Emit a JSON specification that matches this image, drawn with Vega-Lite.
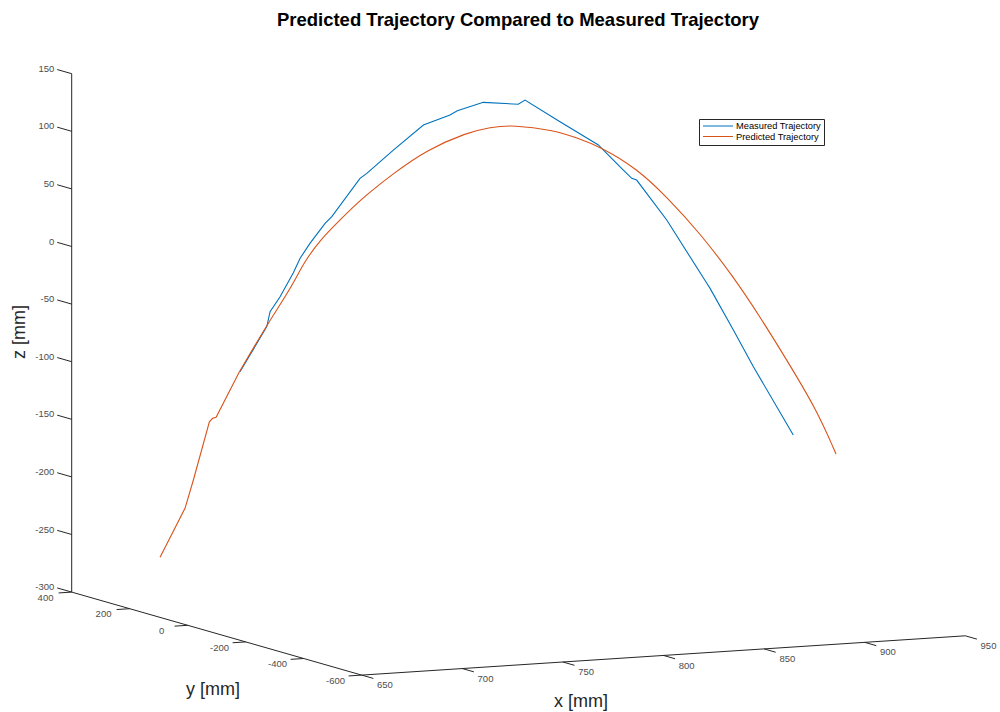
{
  "$schema": "https://vega.github.io/schema/vega-lite/v6.json",
  "width": 1000,
  "height": 672,
  "padding": {"left": 0, "top": 40, "right": 0, "bottom": 0},
  "autosize": {"type": "none"},
  "background": "white",
  "title": {
    "text": "Predicted Trajectory Compared to Measured Trajectory",
    "font": "Liberation Sans",
    "fontSize": 18.5,
    "fontWeight": "bold",
    "color": "#000000",
    "anchor": "middle",
    "offset": 11,
    "dx": 18
  },
  "config": {
    "view": {"stroke": null},
    "text": {"font": "Liberation Sans"},
    "legend": {
      "title": null,
      "fillColor": "#ffffff",
      "strokeColor": "#262626",
      "padding": 3,
      "symbolType": "stroke",
      "symbolSize": 900,
      "symbolStrokeWidth": 1.2,
      "clipHeight": 8,
      "rowPadding": 0.5,
      "labelOffset": 2,
      "labelFont": "Liberation Sans",
      "labelFontSize": 9.3,
      "labelColor": "#000000"
    }
  },
  "datasets": {
    "trajectory": [
      {"series": "Measured Trajectory", "x": 709.0, "y": 229.0, "z": -103.1},
      {"series": "Measured Trajectory", "x": 718.9, "y": 205.3, "z": -63.4},
      {"series": "Measured Trajectory", "x": 720.1, "y": 202.3, "z": -50.3},
      {"series": "Measured Trajectory", "x": 723.8, "y": 193.5, "z": -37.1},
      {"series": "Measured Trajectory", "x": 728.7, "y": 181.7, "z": -16.0},
      {"series": "Measured Trajectory", "x": 731.2, "y": 175.7, "z": -3.3},
      {"series": "Measured Trajectory", "x": 734.8, "y": 166.8, "z": 9.9},
      {"series": "Measured Trajectory", "x": 740.4, "y": 153.5, "z": 27.6},
      {"series": "Measured Trajectory", "x": 742.9, "y": 147.6, "z": 33.5},
      {"series": "Measured Trajectory", "x": 753.3, "y": 122.5, "z": 67.4},
      {"series": "Measured Trajectory", "x": 755.8, "y": 116.5, "z": 71.9},
      {"series": "Measured Trajectory", "x": 765.6, "y": 92.9, "z": 92.7},
      {"series": "Measured Trajectory", "x": 776.7, "y": 66.3, "z": 115.1},
      {"series": "Measured Trajectory", "x": 786.5, "y": 42.6, "z": 124.4},
      {"series": "Measured Trajectory", "x": 789.2, "y": 36.1, "z": 128.3},
      {"series": "Measured Trajectory", "x": 798.8, "y": 13.0, "z": 136.1},
      {"series": "Measured Trajectory", "x": 811.7, "y": -18.0, "z": 135.2},
      {"series": "Measured Trajectory", "x": 814.2, "y": -24.0, "z": 139.0},
      {"series": "Measured Trajectory", "x": 827.1, "y": -55.1, "z": 121.0},
      {"series": "Measured Trajectory", "x": 841.3, "y": -89.0, "z": 101.6},
      {"series": "Measured Trajectory", "x": 842.5, "y": -92.1, "z": 98.8},
      {"series": "Measured Trajectory", "x": 850.5, "y": -111.2, "z": 80.4},
      {"series": "Measured Trajectory", "x": 853.6, "y": -118.7, "z": 73.4},
      {"series": "Measured Trajectory", "x": 855.4, "y": -123.1, "z": 72.0},
      {"series": "Measured Trajectory", "x": 866.5, "y": -149.8, "z": 38.0},
      {"series": "Measured Trajectory", "x": 881.3, "y": -185.3, "z": -16.1},
      {"series": "Measured Trajectory", "x": 882.5, "y": -188.2, "z": -20.4},
      {"series": "Measured Trajectory", "x": 891.1, "y": -208.9, "z": -56.0},
      {"series": "Measured Trajectory", "x": 898.5, "y": -226.6, "z": -87.5},
      {"series": "Measured Trajectory", "x": 913.2, "y": -262.1, "z": -145.9},
      {"series": "Predicted Trajectory", "x": 679.5, "y": 300.0, "z": -266.0},
      {"series": "Predicted Trajectory", "x": 688.7, "y": 277.8, "z": -222.9},
      {"series": "Predicted Trajectory", "x": 691.8, "y": 270.4, "z": -198.1},
      {"series": "Predicted Trajectory", "x": 697.7, "y": 256.2, "z": -147.2},
      {"series": "Predicted Trajectory", "x": 698.9, "y": 253.2, "z": -144.1},
      {"series": "Predicted Trajectory", "x": 700.2, "y": 250.3, "z": -143.2},
      {"series": "Predicted Trajectory", "x": 708.8, "y": 229.6, "z": -103.1},
      {"series": "Predicted Trajectory", "x": 718.9, "y": 205.3, "z": -62.0},
      {"series": "Predicted Trajectory", "x": 728.1, "y": 183.1, "z": -28.2},
      {"series": "Predicted Trajectory", "x": 732.4, "y": 172.8, "z": -7.6},
      {"series": "Predicted Trajectory", "x": 738.5, "y": 158.0, "z": 13.0},
      {"series": "Predicted Trajectory", "x": 745.9, "y": 140.2, "z": 30.8},
      {"series": "Predicted Trajectory", "x": 753.3, "y": 122.5, "z": 48.6},
      {"series": "Predicted Trajectory", "x": 765.6, "y": 92.9, "z": 72.5},
      {"series": "Predicted Trajectory", "x": 777.9, "y": 63.3, "z": 93.5},
      {"series": "Predicted Trajectory", "x": 792.7, "y": 27.8, "z": 109.4},
      {"series": "Predicted Trajectory", "x": 801.3, "y": 7.1, "z": 114.7},
      {"series": "Predicted Trajectory", "x": 809.9, "y": -13.6, "z": 117.1},
      {"series": "Predicted Trajectory", "x": 824.6, "y": -49.1, "z": 113.6},
      {"series": "Predicted Trajectory", "x": 833.0, "y": -69.3, "z": 107.6},
      {"series": "Predicted Trajectory", "x": 841.9, "y": -90.6, "z": 100.2},
      {"series": "Predicted Trajectory", "x": 855.4, "y": -123.1, "z": 82.2},
      {"series": "Predicted Trajectory", "x": 866.6, "y": -150.0, "z": 57.9},
      {"series": "Predicted Trajectory", "x": 878.8, "y": -179.3, "z": 27.2},
      {"series": "Predicted Trajectory", "x": 891.1, "y": -208.9, "z": -9.8},
      {"series": "Predicted Trajectory", "x": 900.9, "y": -232.6, "z": -43.9},
      {"series": "Predicted Trajectory", "x": 910.8, "y": -256.3, "z": -80.9},
      {"series": "Predicted Trajectory", "x": 921.9, "y": -282.9, "z": -123.7},
      {"series": "Predicted Trajectory", "x": 929.0, "y": -300.0, "z": -161.4}
    ],
    "axes": [
      {"axis": "z", "x": 650, "y": 400, "z": -300, "xEnd": 650, "yEnd": 400, "zEnd": 150},
      {"axis": "y", "x": 650, "y": 400, "z": -300, "xEnd": 650, "yEnd": -600, "zEnd": -300},
      {"axis": "x", "x": 650, "y": -600, "z": -300, "xEnd": 950, "yEnd": -600, "zEnd": -300}
    ],
    "ticks": [
      {"axis": "z", "value": -300}, {"axis": "z", "value": -250}, {"axis": "z", "value": -200},
      {"axis": "z", "value": -150}, {"axis": "z", "value": -100}, {"axis": "z", "value": -50},
      {"axis": "z", "value": 0}, {"axis": "z", "value": 50}, {"axis": "z", "value": 100},
      {"axis": "z", "value": 150},
      {"axis": "y", "value": 400}, {"axis": "y", "value": 200}, {"axis": "y", "value": 0},
      {"axis": "y", "value": -200}, {"axis": "y", "value": -400}, {"axis": "y", "value": -600},
      {"axis": "x", "value": 650}, {"axis": "x", "value": 700}, {"axis": "x", "value": 750},
      {"axis": "x", "value": 800}, {"axis": "x", "value": 850}, {"axis": "x", "value": 900},
      {"axis": "x", "value": 950}
    ],
    "axisTitles": [
      {"label": "x [mm]", "x": 759, "y": -600, "z": -335.5, "rot": 0},
      {"label": "y [mm]", "x": 650, "y": -87, "z": -350, "rot": 0},
      {"label": "z [mm]", "x": 650, "y": 578, "z": -87, "rot": 270}
    ]
  },
  "encoding": {
    "x": {"field": "h", "type": "quantitative", "scale": {"domain": [-71.7, 928.3], "nice": false, "zero": false}, "axis": null},
    "y": {"field": "v", "type": "quantitative", "scale": {"domain": [-404.08, 179.25], "nice": false, "zero": false}, "axis": null}
  },
  "layer": [
    {
      "data": {"name": "axes"},
      "transform": [
        {"calculate": "2.012*(datum.x-650)-0.29*(datum.y-400)", "as": "h"},
        {"calculate": "datum.z+0.11372*(datum.x-650)+0.07205*(datum.y-400)", "as": "v"},
        {"calculate": "2.012*(datum.xEnd-650)-0.29*(datum.yEnd-400)", "as": "h2"},
        {"calculate": "datum.zEnd+0.11372*(datum.xEnd-650)+0.07205*(datum.yEnd-400)", "as": "v2"}
      ],
      "mark": {"type": "rule", "color": "#262626", "strokeWidth": 1},
      "encoding": {"x2": {"field": "h2"}, "y2": {"field": "v2"}}
    },
    {
      "data": {"name": "ticks"},
      "transform": [
        {"calculate": "datum.axis==='x'?datum.value:650", "as": "x"},
        {"calculate": "datum.axis==='y'?datum.value:(datum.axis==='x'?-600:400)", "as": "y"},
        {"calculate": "datum.axis==='z'?datum.value:-300", "as": "z"},
        {"calculate": "datum.axis==='y'?-6.5:0", "as": "tx"},
        {"calculate": "datum.axis==='z'?50:(datum.axis==='x'?-40:0)", "as": "ty"},
        {"calculate": "2.012*(datum.x-650)-0.29*(datum.y-400)", "as": "h"},
        {"calculate": "datum.z+0.11372*(datum.x-650)+0.07205*(datum.y-400)", "as": "v"},
        {"calculate": "datum.h+2.012*datum.tx-0.29*datum.ty", "as": "h2"},
        {"calculate": "datum.v+0.11372*datum.tx+0.07205*datum.ty", "as": "v2"}
      ],
      "mark": {"type": "rule", "color": "#262626", "strokeWidth": 1},
      "encoding": {"x2": {"field": "h2"}, "y2": {"field": "v2"}}
    },
    {
      "data": {"name": "ticks"},
      "transform": [
        {"filter": "datum.axis==='z'"},
        {"calculate": "2.012*(650-650)-0.29*(460-400)", "as": "h"},
        {"calculate": "datum.value+0.07205*(460-400)", "as": "v"}
      ],
      "mark": {"type": "text", "align": "right", "baseline": "middle", "fontSize": 9.5, "color": "#4d4d4d"},
      "encoding": {"text": {"field": "value", "type": "nominal"}}
    },
    {
      "data": {"name": "ticks"},
      "transform": [
        {"filter": "datum.axis==='y'"},
        {"calculate": "2.012*(637-650)-0.29*(datum.value-400)", "as": "h"},
        {"calculate": "-300+0.11372*(637-650)+0.07205*(datum.value-400)", "as": "v"}
      ],
      "mark": {"type": "text", "align": "center", "baseline": "middle", "dy": 4, "fontSize": 9.5, "color": "#4d4d4d"},
      "encoding": {"text": {"field": "value", "type": "nominal"}}
    },
    {
      "data": {"name": "ticks"},
      "transform": [
        {"filter": "datum.axis==='x'"},
        {"calculate": "2.012*(datum.value-650)-0.29*(-680-400)", "as": "h"},
        {"calculate": "-300+0.11372*(datum.value-650)+0.07205*(-680-400)", "as": "v"}
      ],
      "mark": {"type": "text", "align": "center", "baseline": "middle", "dy": 3.5, "fontSize": 9.5, "color": "#4d4d4d"},
      "encoding": {"text": {"field": "value", "type": "nominal"}}
    },
    {
      "data": {"name": "axisTitles"},
      "transform": [
        {"filter": "datum.rot===0"},
        {"calculate": "2.012*(datum.x-650)-0.29*(datum.y-400)", "as": "h"},
        {"calculate": "datum.z+0.11372*(datum.x-650)+0.07205*(datum.y-400)", "as": "v"}
      ],
      "mark": {"type": "text", "align": "center", "baseline": "middle", "fontSize": 18, "color": "#262626"},
      "encoding": {"text": {"field": "label"}}
    },
    {
      "data": {"name": "axisTitles"},
      "transform": [
        {"filter": "datum.rot===270"},
        {"calculate": "2.012*(datum.x-650)-0.29*(datum.y-400)", "as": "h"},
        {"calculate": "datum.z+0.11372*(datum.x-650)+0.07205*(datum.y-400)", "as": "v"}
      ],
      "mark": {"type": "text", "align": "center", "baseline": "middle", "angle": 270, "fontSize": 18, "color": "#262626"},
      "encoding": {"text": {"field": "label"}}
    },
    {
      "data": {"name": "trajectory"},
      "transform": [
        {"filter": "datum.series==='Measured Trajectory'"},
        {"calculate": "2.012*(datum.x-650)-0.29*(datum.y-400)", "as": "h"},
        {"calculate": "datum.z+0.11372*(datum.x-650)+0.07205*(datum.y-400)", "as": "v"}
      ],
      "mark": {"type": "line", "strokeWidth": 1.1},
      "encoding": {
        "order": {"field": "x", "type": "quantitative"},
        "color": {
          "field": "series",
          "type": "nominal",
          "scale": {"domain": ["Measured Trajectory", "Predicted Trajectory"], "range": ["#0072BD", "#D95319"]},
          "legend": {"orient": "none", "legendX": 699, "legendY": 79}
        }
      }
    },
    {
      "data": {"name": "trajectory"},
      "transform": [
        {"filter": "datum.series==='Predicted Trajectory' && datum.x<=708.8"},
        {"calculate": "2.012*(datum.x-650)-0.29*(datum.y-400)", "as": "h"},
        {"calculate": "datum.z+0.11372*(datum.x-650)+0.07205*(datum.y-400)", "as": "v"}
      ],
      "mark": {"type": "line", "strokeWidth": 1.1},
      "encoding": {
        "order": {"field": "x", "type": "quantitative"},
        "color": {
          "field": "series",
          "type": "nominal",
          "scale": {"domain": ["Measured Trajectory", "Predicted Trajectory"], "range": ["#0072BD", "#D95319"]},
          "legend": {"orient": "none", "legendX": 699, "legendY": 79}
        }
      }
    },
    {
      "data": {"name": "trajectory"},
      "transform": [
        {"filter": "datum.series==='Predicted Trajectory' && datum.x>=708.8"},
        {"calculate": "2.012*(datum.x-650)-0.29*(datum.y-400)", "as": "h"},
        {"calculate": "datum.z+0.11372*(datum.x-650)+0.07205*(datum.y-400)", "as": "v"}
      ],
      "mark": {"type": "line", "strokeWidth": 1.1, "interpolate": "basis"},
      "encoding": {
        "order": {"field": "x", "type": "quantitative"},
        "color": {
          "field": "series",
          "type": "nominal",
          "scale": {"domain": ["Measured Trajectory", "Predicted Trajectory"], "range": ["#0072BD", "#D95319"]},
          "legend": {"orient": "none", "legendX": 699, "legendY": 79}
        }
      }
    }
  ]
}
